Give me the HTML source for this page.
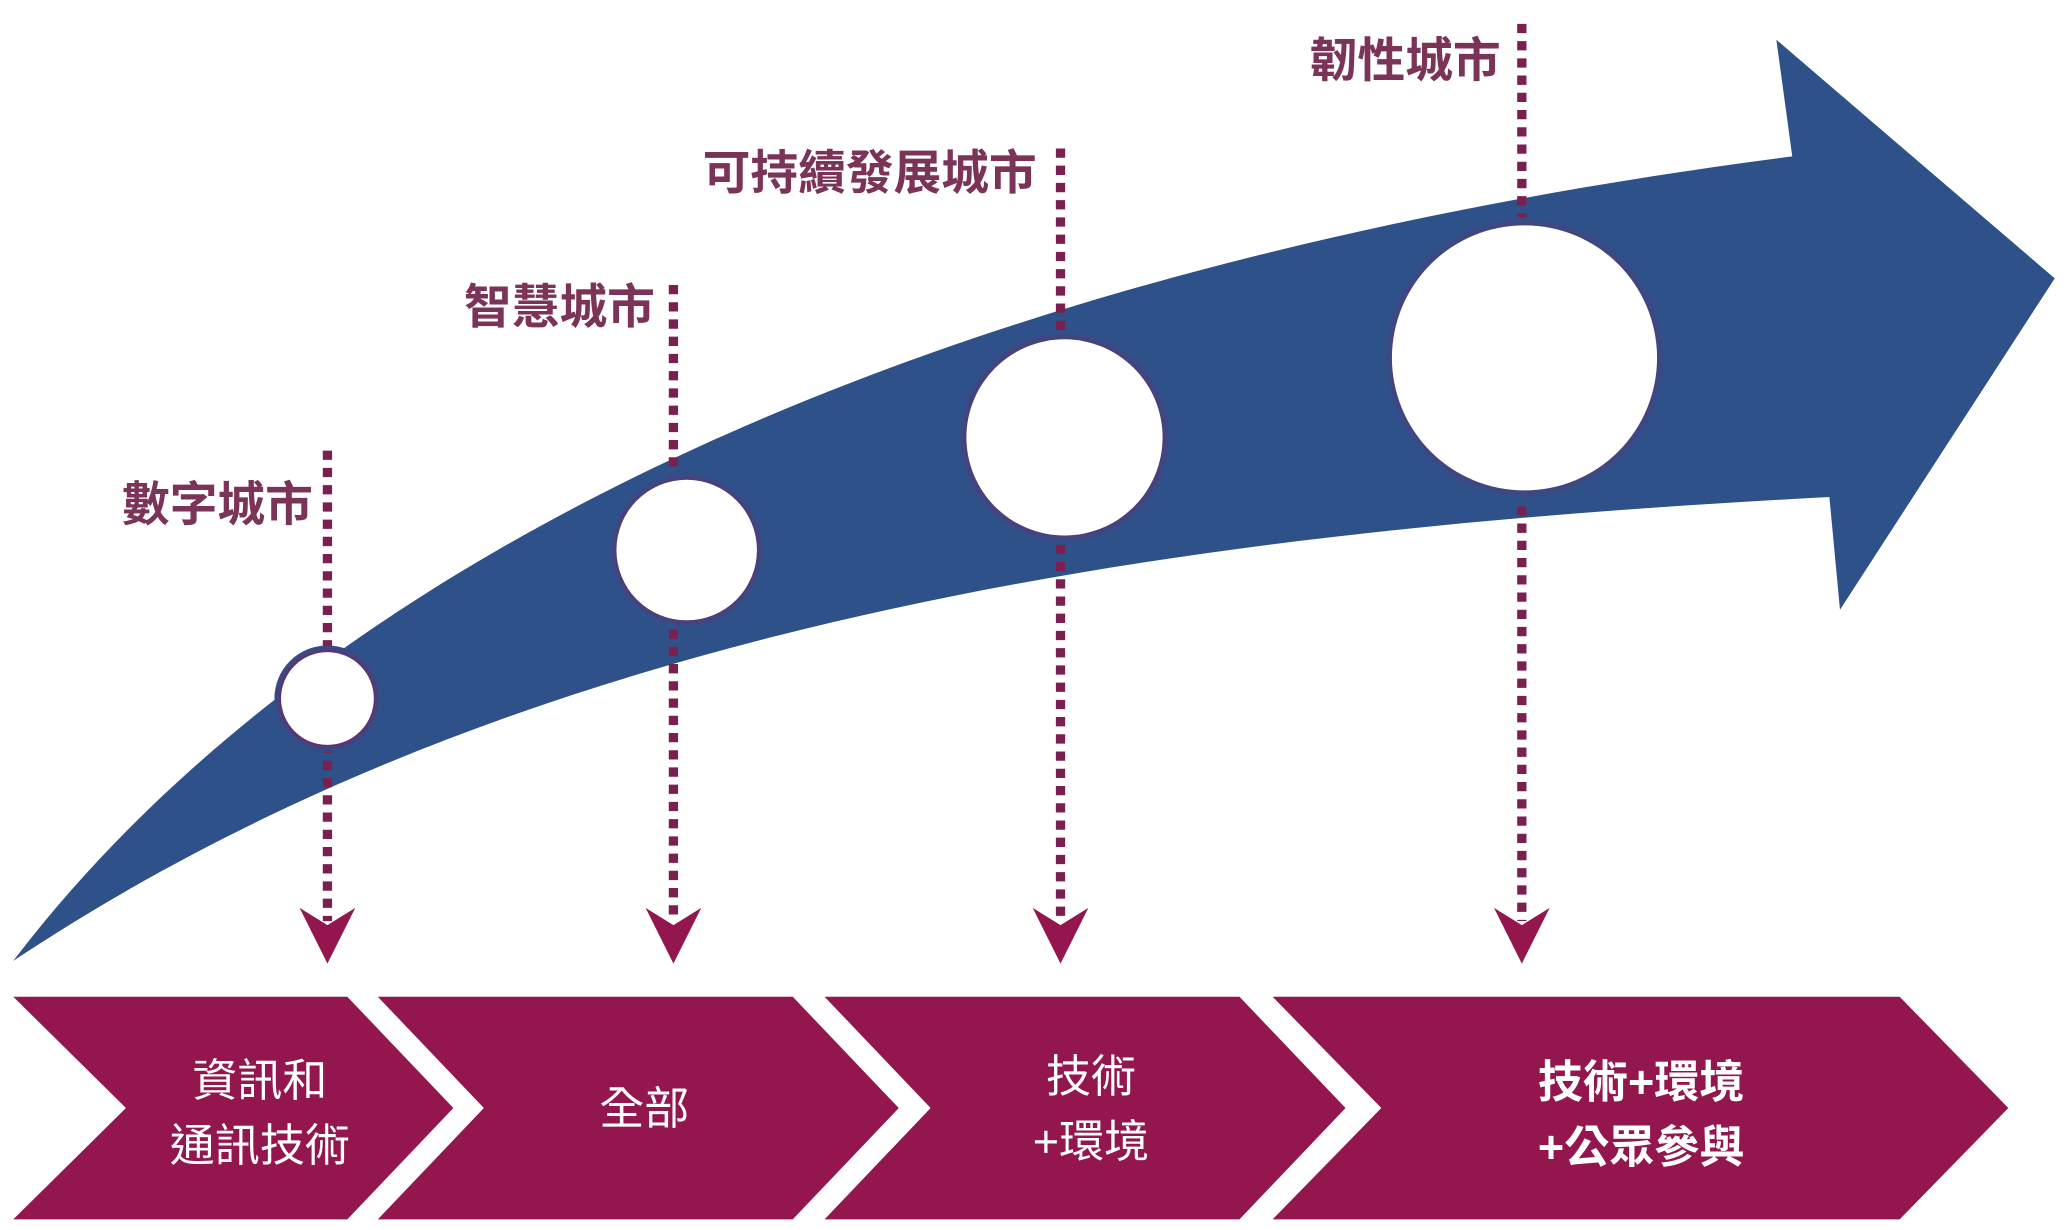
<!DOCTYPE html>
<html><head><meta charset="utf-8"><style>
html,body{margin:0;padding:0;background:#fff;}
svg{display:block;}
text{font-family:"Liberation Sans","Noto Sans CJK TC",sans-serif;}
</style></head><body>
<svg width="2068" height="1230" viewBox="0 0 1560 928" preserveAspectRatio="none" xmlns="http://www.w3.org/2000/svg">
<defs>
<radialGradient id="g" cx="0.5" cy="0.5" r="0.5">
<stop offset="0.85" stop-color="#6a2a6e"/><stop offset="1" stop-color="#2e5189"/>
</radialGradient>
</defs>
<path d="M10,725 C 200,475 600,215 1352,118 L1340,30 L1550,210 L1388,460 L1380,375 C 900,400 400,465 10,725 Z" fill="#2e5189"/>
<g stroke="#7a2050" stroke-width="7" stroke-dasharray="7 6">
<line x1="247" y1="340" x2="247" y2="695"/>
<line x1="508" y1="215" x2="508" y2="695"/>
<line x1="800" y1="112" x2="800" y2="695"/>
<line x1="1148" y1="18" x2="1148" y2="695"/>
</g>
<g fill="url(#g)">
<circle cx="247" cy="527" r="40"/>
<circle cx="518" cy="415" r="58"/>
<circle cx="803" cy="330" r="80"/>
<circle cx="1150" cy="270" r="106"/>
</g>
<g fill="#fff">
<circle cx="247" cy="527" r="35"/>
<circle cx="518" cy="415" r="53"/>
<circle cx="803" cy="330" r="74"/>
<circle cx="1150" cy="270" r="100"/>
</g>
<g fill="#93174e">
<path d="M226,685 L247,698 L268,685 L247,727 Z"/>
<path d="M487,685 L508,698 L529,685 L508,727 Z"/>
<path d="M779,685 L800,698 L821,685 L800,727 Z"/>
<path d="M1127,685 L1148,698 L1169,685 L1148,727 Z"/>
<polygon points="10,752 262,752 342,836 262,920 10,920 95,836"/>
<polygon points="285,752 598,752 678,836 598,920 285,920 365,836"/>
<polygon points="622,752 935,752 1015,836 935,920 622,920 702,836"/>
<polygon points="960,752 1433,752 1515,836 1433,920 960,920 1042,836"/>
</g>
<g fill="#7b3357" font-size="36" font-weight="bold">
<text x="236" y="393" text-anchor="end">數字城市</text>
<text x="494" y="244" text-anchor="end">智慧城市</text>
<text x="782" y="143" text-anchor="end">可持續發展城市</text>
<text x="1132" y="58" text-anchor="end">韌性城市</text>
</g>
<g fill="#fff" font-size="34" text-anchor="middle">
<text x="196" y="827">資訊和</text>
<text x="196" y="876">通訊技術</text>
<text x="486" y="848">全部</text>
<text x="823" y="824">技術</text>
<text x="823" y="873">+環境</text>
<text x="1238" y="828" font-weight="bold">技術+環境</text>
<text x="1238" y="877" font-weight="bold">+公眾參與</text>
</g>
</svg>
</body></html>
